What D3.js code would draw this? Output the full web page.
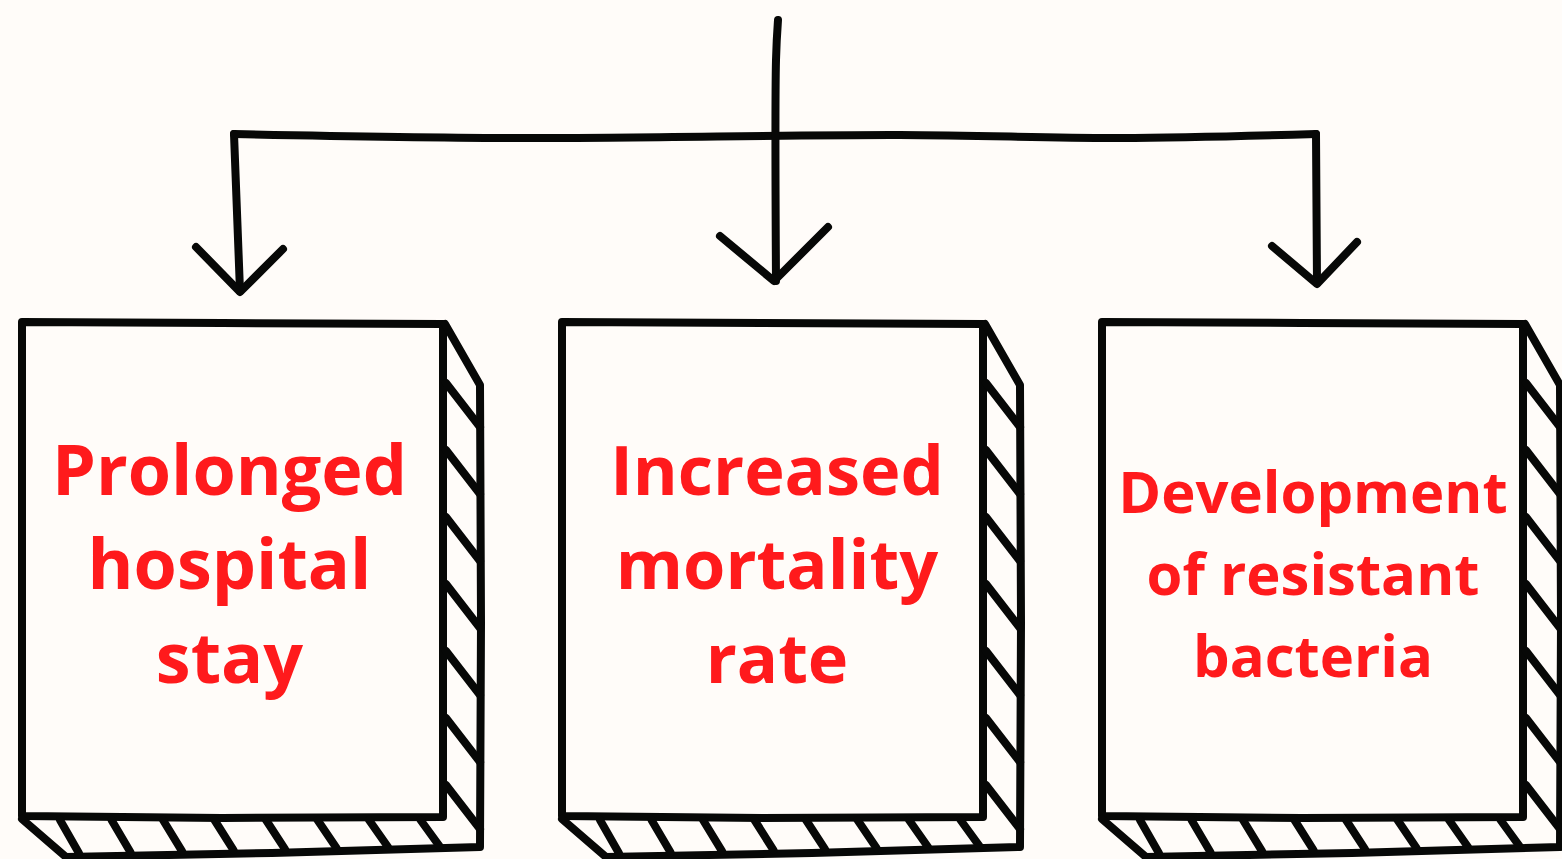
<!DOCTYPE html>
<html>
<head>
<meta charset="utf-8">
<script src="https://cdn.jsdelivr.net/npm/d3@7"></script>
<style>
  html, body { margin: 0; padding: 0; background: #fffcf9; }
  svg { display: block; }
</style>
</head>
<body>
<div id="container"></div>
<script>
// Page size
var svg_width = 1562
var svg_height = 859

// Box labels (one array of lines per box)
const boxLines = [
    ["Prolonged", "hospital", "stay"],
    ["Increased", "mortality", "rate"],
    ["Development", "of resistant", "bacteria"]
];
const fontSizes = [70, 68.5, 58];
const lineGaps = [94, 94, 82];
const firstBaselines = [495, 495, 513];
const textShift = [-3, 4.5, 0.5];

// Arrow positions
const arrowX = [240, 776, 1317];
const arrowTipY = [295, 283, 287];

var svg = d3.select("#container")
    .append("svg")
    .attr("width", svg_width)
    .attr("height", svg_height);

svg.append("rect")
    .attr("width", svg_width)
    .attr("height", svg_height)
    .attr("fill", "#fffcf9");

// Box positions
var xBox = d3.scaleBand()
    .domain(d3.range(boxLines.length))
    .range([22, 22 + 540 * boxLines.length])
    .paddingInner(0);

var frontW = 421, frontH = 495, sideW = 37;

var line = d3.line();
var smooth = d3.line().curve(d3.curveCatmullRom);
var stroke = "#070807";

// --- connector ---
var conn = svg.append("g")
    .attr("fill", "none")
    .attr("stroke", stroke)
    .attr("stroke-width", 8)
    .attr("stroke-linecap", "round")
    .attr("stroke-linejoin", "round");

// horizontal bar with side legs
conn.append("path")
    .attr("d", line([[arrowX[0], arrowTipY[0] - 4], [arrowX[0] - 6, 134]]));
conn.append("path")
    .attr("d", smooth([[arrowX[0] - 6, 134], [520, 138], [900, 135], [1120, 138], [arrowX[2] - 1, 134]]));
conn.append("path")
    .attr("d", line([[arrowX[2] - 1, 134], [arrowX[2], arrowTipY[2] - 4]]));

// centre vertical
conn.append("path")
    .attr("d", smooth([[778, 20], [776, 60], [776, arrowTipY[1] - 2]]));

// arrow heads
var heads = [
    [[196, 247], [240, 292], [283, 249]],
    [[720, 236], [774, 281], [828, 227]],
    [[1272, 246], [1317, 284], [1357, 242]]
];
heads.forEach(function(h){
    conn.append("path").attr("d", line(h));
});

// --- boxes ---
var boxes = svg.selectAll("g.box")
    .data(boxLines)
    .enter()
    .append("g")
    .attr("class", "box")
    .attr("transform", (d, i) => `translate(${xBox(i)},322)`);

var outline = boxes.append("g")
    .attr("fill", "none")
    .attr("stroke", stroke)
    .attr("stroke-width", 8)
    .attr("stroke-linecap", "round")
    .attr("stroke-linejoin", "round");

// front face
outline.append("path")
    .attr("d", line([[0, 0], [200, 1], [frontW, 2], [frontW, frontH], [200, frontH + 1], [0, frontH - 1], [0, 0]]));

// side and bottom face outline
outline.append("path")
    .attr("d", line([
        [frontW + 2, 2], [frontW + sideW, 63], [frontW + sideW + 1, 300], [frontW + sideW, 525],
        [250, 531], [44, 535], [0, frontH + 2]
    ]));

// side hatches
var sideY = d3.range(61, 470, 67);
outline.selectAll("path.sh")
    .data(sideY)
    .enter()
    .append("path")
    .attr("class", "sh")
    .attr("d", y => line([[frontW + 3, y], [frontW + sideW, y + 44]]));

// bottom hatches
var bottomX = d3.range(38, 410, 51.5);
outline.selectAll("path.bh")
    .data(bottomX)
    .enter()
    .append("path")
    .attr("class", "bh")
    .attr("d", x => line([[x, frontH + 3], [x + 19, 532 - x * 0.02]]));

// labels
boxes.each(function(lines, i){
    var g = d3.select(this);
    g.selectAll("text")
        .data(lines)
        .enter()
        .append("text")
        .attr("x", frontW / 2 + textShift[i])
        .attr("y", (d, k) => firstBaselines[i] - 322 + k * lineGaps[i])
        .attr("text-anchor", "middle")
        .attr("fill", "#ff1a1c")
        .attr("font-family", "'Open Sans', 'Noto Sans', sans-serif")
        .attr("font-weight", 700)
        .attr("font-size", fontSizes[i])
        .text(d => d);
});
</script>
</body>
</html>
